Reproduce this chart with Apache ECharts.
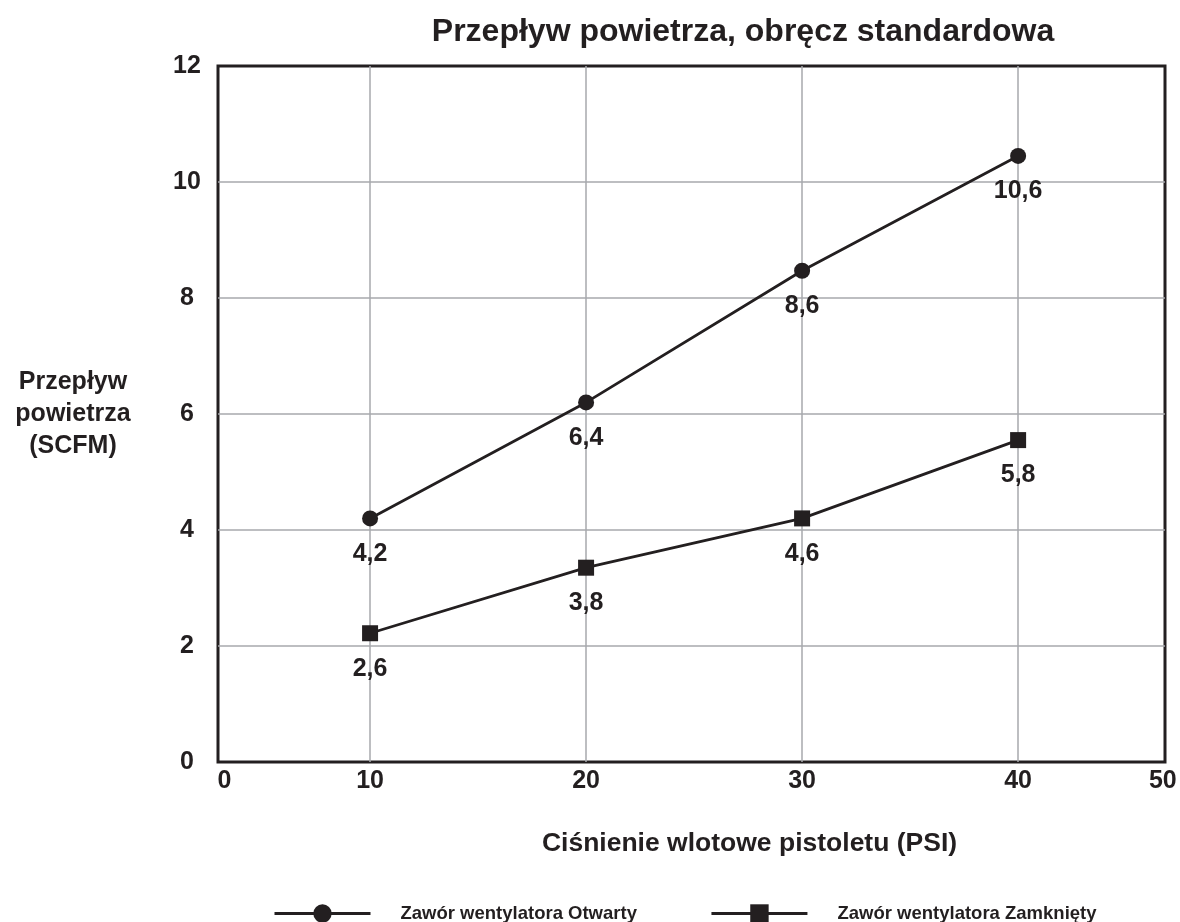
<!DOCTYPE html>
<html>
<head>
<meta charset="utf-8">
<title>Przepływ powietrza</title>
<script src="https://cdn.jsdelivr.net/npm/echarts@6/dist/echarts.min.js"></script>
<style>
  html, body { margin: 0; padding: 0; background: #fff; }
  #chart { width: 1180px; height: 922px; }
</style>
</head>
<body>
<div id="chart"></div>
<script>
// values
const pressure = [10, 20, 30, 40]
const openFlow = [4.2, 6.2, 8.47, 10.45]
const openLabels = ['4,2', '6,4', '8,6', '10,6']
const closedFlow = [2.22, 3.35, 4.2, 5.55]
const closedLabels = ['2,6', '3,8', '4,6', '5,8']
const xTickLabels = ['0', '10', '20', '30', '40', '50']
const seriesNames = ['Zawór wentylatora Otwarty', 'Zawór wentylatora Zamknięty']

const font = "'Liberation Sans', Arial, sans-serif"
const ink = '#231f20'
const gridGray = '#a7a9ac'

// the frame of the original does not sit on 0 and 50
const xMin = 2.96
const xMax = 46.8
const xLabelAt = [xMin + 0.3, 10, 20, 30, 40, xMax - 0.1]

const chart = echarts.init(document.getElementById('chart'))

function pairs(ys) {
  return pressure.map((x, i) => [x, ys[i]])
}

function pointLabel(texts) {
  return {
    show: true,
    position: 'bottom',
    distance: 15,
    fontSize: 25,
    fontWeight: 'bold',
    color: ink,
    fontFamily: font,
    formatter: p => texts[p.dataIndex]
  }
}

chart.setOption({
  backgroundColor: '#fff',
  textStyle: { fontFamily: font },
  title: {
    text: 'Przepływ powietrza, obręcz standardowa',
    left: 743,
    top: 16,
    textAlign: 'center',
    padding: 0,
    textStyle: { fontSize: 32, fontWeight: 'bold', color: ink, fontFamily: font }
  },
  legend: {
    left: 268,
    top: 899,
    itemWidth: 96,
    itemHeight: 23,
    itemGap: 73,
    data: seriesNames,
    textStyle: { fontSize: 18.5, fontWeight: 'bold', color: ink, fontFamily: font, padding: [0, 0, 0, 25] },
    lineStyle: { width: 3 }
  },
  grid: {
    left: 218,
    right: 15,
    top: 66,
    bottom: 160,
    show: true,
    borderColor: ink,
    borderWidth: 3
  },
  xAxis: {
    type: 'value',
    min: xMin,
    max: xMax,
    name: 'Ciśnienie wlotowe pistoletu (PSI)',
    nameLocation: 'middle',
    nameGap: 68,
    nameTextStyle: { fontSize: 26.5, fontWeight: 'bold', color: ink, fontFamily: font, padding: [0, 0, 0, 116] },
    axisLine: { show: false },
    axisTick: { show: false, customValues: pressure },
    axisLabel: {
      customValues: xLabelAt,
      margin: 7,
      fontSize: 25,
      fontWeight: 'bold',
      color: ink,
      fontFamily: font,
      formatter: v => xTickLabels[xLabelAt.indexOf(v)]
    },
    splitLine: { show: true, lineStyle: { color: gridGray, width: 1.5 } }
  },
  yAxis: {
    type: 'value',
    min: 0,
    max: 12,
    interval: 2,
    name: 'Przepływ\npowietrza\n(SCFM)',
    nameLocation: 'middle',
    nameRotate: 0,
    nameGap: 145,
    nameTextStyle: {
      fontSize: 25,
      fontWeight: 'bold',
      color: ink,
      fontFamily: font,
      align: 'center',
      lineHeight: 32,
      padding: [42, 0, 0, 0]
    },
    axisLine: { show: false },
    axisTick: { show: false },
    axisLabel: { margin: 31, align: 'center', fontSize: 25, fontWeight: 'bold', color: ink, fontFamily: font },
    splitLine: { show: true, showMinLine: false, showMaxLine: false, lineStyle: { color: gridGray, width: 1.5 } }
  },
  series: [
    {
      name: seriesNames[0],
      type: 'line',
      data: pairs(openFlow),
      symbol: 'circle',
      symbolSize: 16,
      lineStyle: { color: ink, width: 2.8 },
      itemStyle: { color: ink },
      label: pointLabel(openLabels)
    },
    {
      name: seriesNames[1],
      type: 'line',
      data: pairs(closedFlow),
      symbol: 'rect',
      symbolSize: 16,
      lineStyle: { color: ink, width: 2.8 },
      itemStyle: { color: ink },
      label: pointLabel(closedLabels)
    }
  ]
})
</script>
</body>
</html>
